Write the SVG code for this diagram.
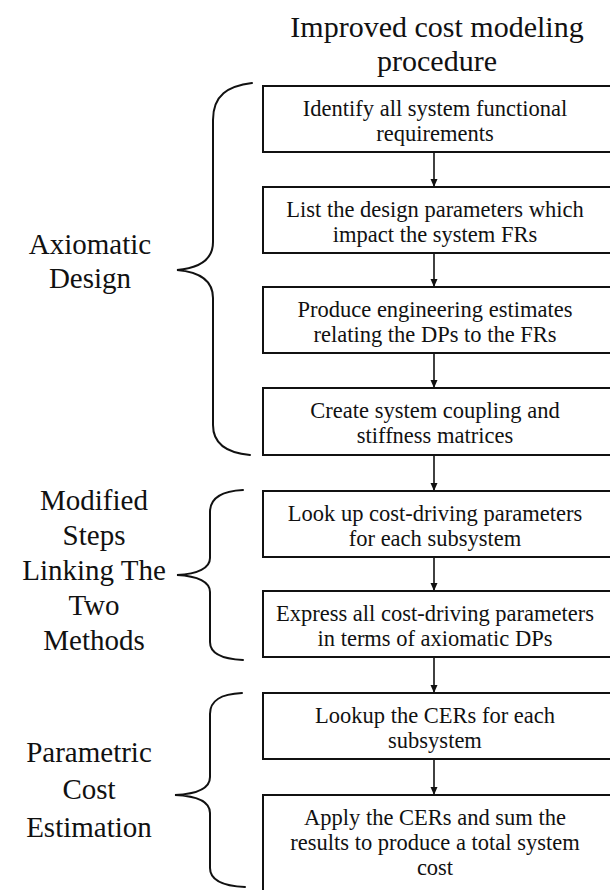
<svg xmlns="http://www.w3.org/2000/svg" width="610" height="890" viewBox="0 0 610 890">
<defs>
<style>
text{font-family:'Liberation Serif','Times New Roman',serif;fill:#111;text-anchor:middle}
.t{font-size:22.5px}
.h{font-size:30px}
.l{font-size:29px}
.box{fill:#fff;stroke:#111;stroke-width:2}
.br{fill:none;stroke:#111;stroke-width:2;stroke-linecap:round}
.ar{stroke:#111;stroke-width:1.6;fill:none;marker-end:url(#ah)}
</style>
<marker id="ah" viewBox="0 0 8 10" refX="8" refY="5" markerWidth="8" markerHeight="10" markerUnits="userSpaceOnUse" orient="auto">
<path d="M0,1.5 L8,5 L0,8.5 Z" fill="#111"/>
</marker>
</defs>
<rect width="610" height="890" fill="#fff"/>
<g id="title">
<text class="h" x="437" y="37">Improved cost modeling</text>
<text class="h" x="437" y="71">procedure</text>
</g>
<g id="connectors">
<line class="ar" x1="434" y1="152" x2="434" y2="187"/>
<line class="ar" x1="434" y1="253" x2="434" y2="287"/>
<line class="ar" x1="434" y1="353" x2="434" y2="388"/>
<line class="ar" x1="434" y1="455" x2="434" y2="491"/>
<line class="ar" x1="434" y1="557" x2="434" y2="591"/>
<line class="ar" x1="434" y1="657" x2="434" y2="693"/>
<line class="ar" x1="434" y1="759" x2="434" y2="795"/>
</g>
<g id="n1"><rect class="box" x="263" y="86" width="360" height="66"/>
<text class="t" x="435" y="116">Identify all system functional</text>
<text class="t" x="435" y="141">requirements</text></g>
<g id="n2"><rect class="box" x="263" y="187" width="360" height="66"/>
<text class="t" x="435" y="217">List the design parameters which</text>
<text class="t" x="435" y="242">impact the system FRs</text></g>
<g id="n3"><rect class="box" x="263" y="287" width="360" height="66"/>
<text class="t" x="435" y="317">Produce engineering estimates</text>
<text class="t" x="435" y="342">relating the DPs to the FRs</text></g>
<g id="n4"><rect class="box" x="263" y="388" width="360" height="67"/>
<text class="t" x="435" y="418">Create system coupling and</text>
<text class="t" x="435" y="443">stiffness matrices</text></g>
<g id="n5"><rect class="box" x="263" y="491" width="360" height="66"/>
<text class="t" x="435" y="521">Look up cost-driving parameters</text>
<text class="t" x="435" y="546">for each subsystem</text></g>
<g id="n6"><rect class="box" x="263" y="591" width="360" height="66"/>
<text class="t" x="435" y="621">Express all cost-driving parameters</text>
<text class="t" x="435" y="646">in terms of axiomatic DPs</text></g>
<g id="n7"><rect class="box" x="263" y="693" width="360" height="66"/>
<text class="t" x="435" y="723">Lookup the CERs for each</text>
<text class="t" x="435" y="748">subsystem</text></g>
<g id="n8"><rect class="box" x="263" y="795" width="360" height="110"/>
<text class="t" x="435" y="825">Apply the CERs and sum the</text>
<text class="t" x="435" y="850">results to produce a total system</text>
<text class="t" x="435" y="875">cost</text></g>
<g id="g-axiomatic">
<path class="br" d="M252,83 C228,86 213,95 213,120 L213,242 C213,259 200,268 177,270 C200,272 213,281 213,298 L213,425 C213,445 228,453 250,455"/>
<text class="l" x="90" y="254">Axiomatic</text>
<text class="l" x="90" y="288">Design</text>
</g>
<g id="g-modified">
<path class="br" d="M243,490 C222,491 210,498 210,512 L210,558 C210,568 198,574 177,575 C198,576 210,582 210,592 L210,642 C210,653 222,659 243,660"/>
<text class="l" x="94" y="510">Modified</text>
<text class="l" x="94" y="545">Steps</text>
<text class="l" x="94" y="580">Linking The</text>
<text class="l" x="94" y="615">Two</text>
<text class="l" x="94" y="650">Methods</text>
</g>
<g id="g-parametric">
<path class="br" d="M242,693 C221,694 210,700 210,714 L210,777 C210,788 197,794 175,795 C197,796 210,802 210,813 L210,868 C210,880 222,886 245,887"/>
<text class="l" x="89" y="762">Parametric</text>
<text class="l" x="89" y="799">Cost</text>
<text class="l" x="89" y="837">Estimation</text>
</g>
</svg>
